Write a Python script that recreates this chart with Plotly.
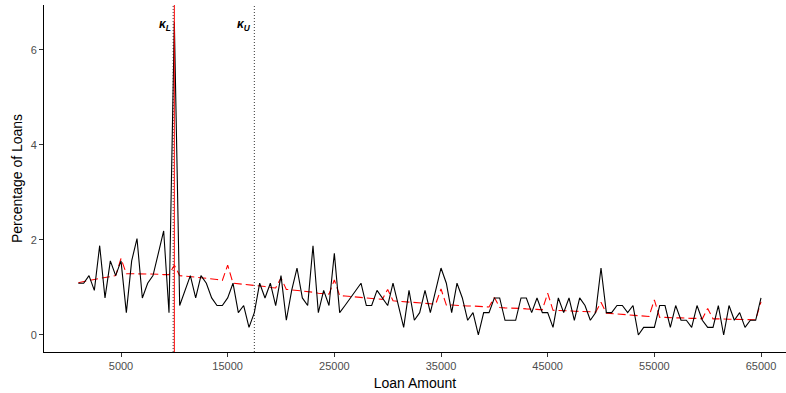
import plotly.graph_objects as go

loan_bins = list(range(1000, 65001, 500))

pct_observed = [
    1.09, 1.09, 1.25, 0.94, 1.88, 0.78, 1.56, 1.25, 1.56, 0.47,
    1.56, 2.03, 0.78, 1.09, 1.25, 1.72, 2.19, 0.47, 6.59, 0.62,
    0.94, 1.25, 0.78, 1.25, 1.09, 0.78, 0.62, 0.62, 0.78, 1.09,
    0.47, 0.62, 0.16, 0.47, 1.09, 0.78, 1.09, 0.62, 1.25, 0.31,
    0.94, 1.41, 0.78, 0.62, 1.88, 0.47, 0.94, 0.62, 1.72, 0.47,
    0.62, 0.78, 0.94, 1.09, 0.62, 0.62, 0.94, 0.78, 0.62, 1.09,
    0.62, 0.16, 0.94, 0.31, 0.47, 0.94, 0.47, 0.94, 1.41, 1.09,
    0.47, 1.09, 0.78, 0.31, 0.47, 0.00, 0.47, 0.47, 0.78, 0.78,
    0.31, 0.31, 0.31, 0.78, 0.78, 0.47, 0.78, 0.47, 0.47, 0.16,
    0.78, 0.47, 0.78, 0.31, 0.78, 0.62, 0.31, 0.47, 1.41, 0.47,
    0.47, 0.62, 0.62, 0.47, 0.62, 0.00, 0.16, 0.16, 0.16, 0.62,
    0.62, 0.16, 0.62, 0.31, 0.31, 0.16, 0.62, 0.31, 0.16, 0.16,
    0.62, 0.00, 0.62, 0.31, 0.47, 0.16, 0.31, 0.31, 0.78,
]

pct_counterfactual = [
    1.10, 1.13, 1.15, 1.17, 1.19, 1.21, 1.23, 1.25, 1.61, 1.29,
    1.29, 1.29, 1.28, 1.28, 1.28, 1.28, 1.27, 1.27, 1.47, 1.25,
    1.24, 1.23, 1.22, 1.21, 1.20, 1.18, 1.17, 1.15, 1.47, 1.09,
    1.08, 1.07, 1.06, 1.04, 1.03, 1.02, 1.00, 0.99, 1.20, 0.96,
    0.95, 0.94, 0.92, 0.91, 0.90, 0.88, 0.87, 0.86, 1.16, 0.83,
    0.82, 0.81, 0.80, 0.79, 0.78, 0.77, 0.76, 0.75, 0.96, 0.72,
    0.71, 0.70, 0.70, 0.69, 0.68, 0.67, 0.66, 0.65, 0.97, 0.63,
    0.63, 0.62, 0.62, 0.61, 0.61, 0.60, 0.60, 0.59, 0.79, 0.58,
    0.57, 0.57, 0.56, 0.56, 0.55, 0.55, 0.54, 0.53, 0.88, 0.52,
    0.52, 0.51, 0.51, 0.50, 0.50, 0.49, 0.49, 0.48, 0.69, 0.46,
    0.45, 0.44, 0.43, 0.42, 0.41, 0.41, 0.40, 0.39, 0.74, 0.37,
    0.37, 0.36, 0.36, 0.36, 0.35, 0.35, 0.35, 0.34, 0.56, 0.34,
    0.34, 0.33, 0.33, 0.33, 0.33, 0.32, 0.32, 0.32, 0.70,
]

x_ticks = [5000, 15000, 25000, 35000, 45000, 55000, 65000]
y_ticks = [0, 2, 4, 6]
kappa_lower = 10000
kappa_upper = 17500

fig = go.Figure()
fig.add_trace(go.Scatter(
    x=loan_bins, y=pct_counterfactual, mode="lines",
    line=dict(color="#ff0000", width=1.1, dash="8px,4px"),
    hoverinfo="skip", showlegend=False,
))
fig.add_trace(go.Scatter(
    x=loan_bins, y=pct_observed, mode="lines",
    line=dict(color="#000000", width=1.1),
    showlegend=False,
))

fig.add_vline(x=kappa_lower - 110, line=dict(color="black", width=0.8, dash="1px,2px"))
fig.add_vline(x=kappa_upper, line=dict(color="black", width=0.8, dash="1px,2px"))
fig.add_vline(x=kappa_lower, line=dict(color="#ff0000", width=1))

label_font = dict(family="Liberation Sans, Arial, sans-serif", size=12, color="black")
fig.add_annotation(x=kappa_lower, y=6.53, xanchor="right", yanchor="middle",
                   text="<b><i>κ</i></b><sub><b><i>L</i></b></sub>", showarrow=False,
                   font=label_font, xshift=-1)
fig.add_annotation(x=kappa_upper, y=6.53, xanchor="right", yanchor="middle",
                   text="<b><i>κ</i></b><sub><b><i>U</i></b></sub>", showarrow=False,
                   font=label_font, xshift=-1)

axis_common = dict(
    showline=True, linecolor="black", linewidth=1.1,
    ticks="outside", ticklen=4, tickcolor="#333333", tickwidth=1,
    showgrid=False, zeroline=False,
    tickfont=dict(family="Liberation Sans, Arial, sans-serif", size=11, color="#4d4d4d"),
)

fig.update_layout(
    width=786, height=393,
    margin=dict(l=44, r=0, t=5, b=41),
    plot_bgcolor="white", paper_bgcolor="white",
    font=dict(family="Liberation Sans, Arial, sans-serif"),
    xaxis=dict(range=[-2219, 67343], tickvals=x_ticks,
               ticktext=[str(v) for v in x_ticks],
               title=dict(text="Loan Amount", standoff=6,
                          font=dict(size=14, color="black")),
               **axis_common),
    yaxis=dict(range=[-0.358, 6.947], tickvals=y_ticks,
               ticktext=[str(v) for v in y_ticks],
               title=dict(text="Percentage of Loans", standoff=4,
                          font=dict(size=14, color="black")),
               **axis_common),
)

fig.write_html("out.html")
